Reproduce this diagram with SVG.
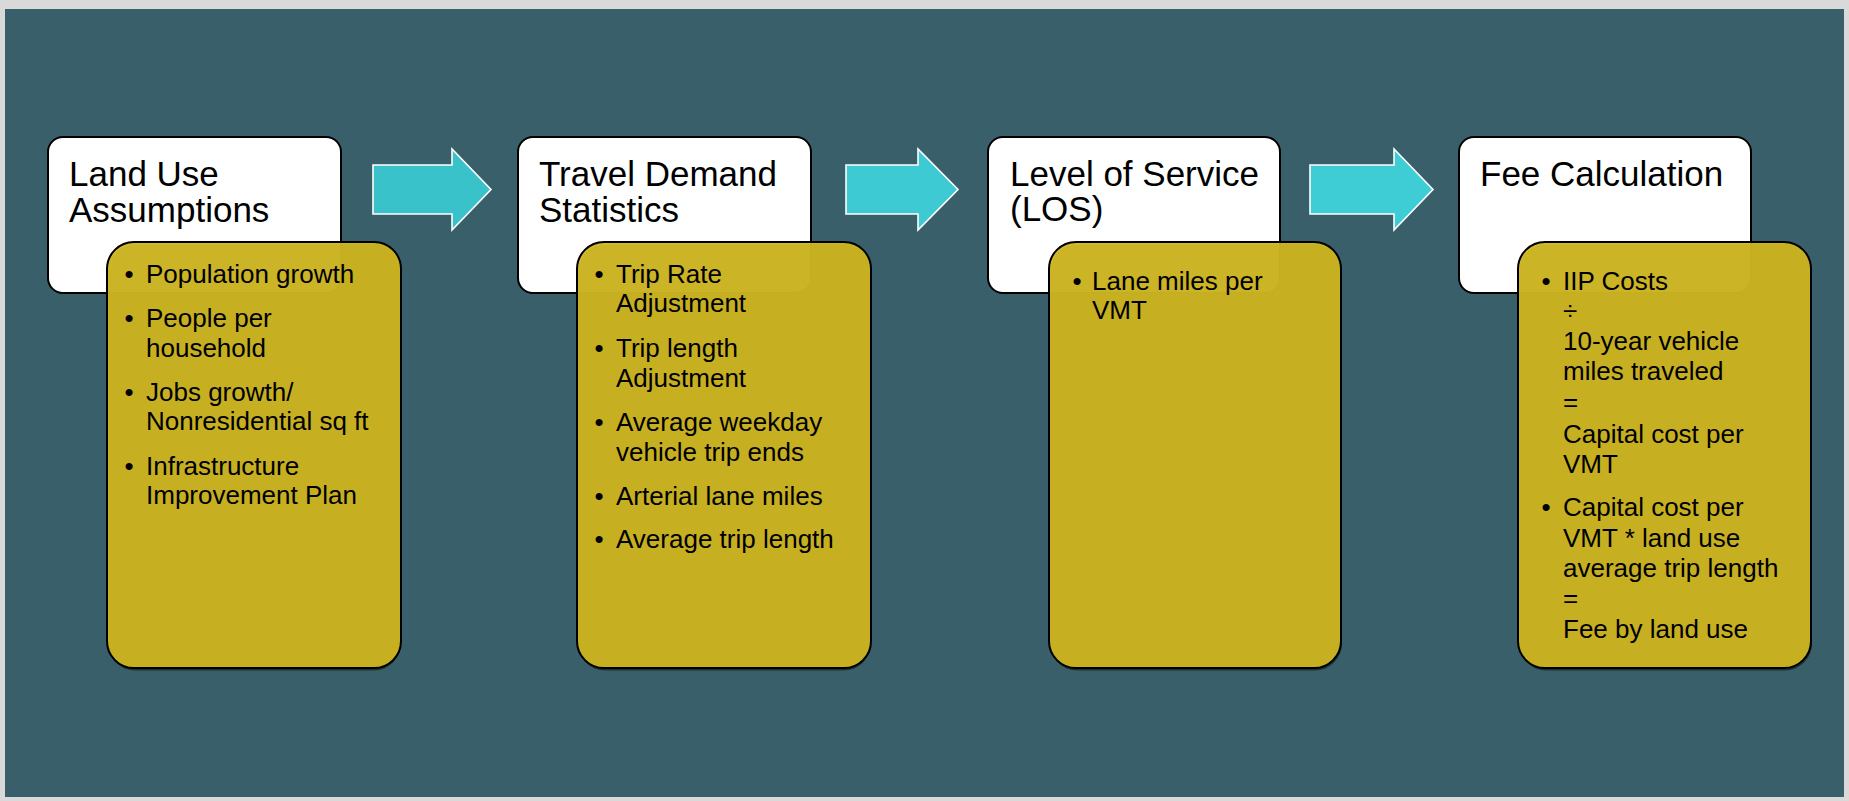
<svg xmlns="http://www.w3.org/2000/svg" width="1849" height="801" viewBox="0 0 1849 801">
<style>
.title{font-family:"Liberation Sans",Arial,sans-serif;font-size:35px;fill:#000}
.item{font-family:"Liberation Sans",Arial,sans-serif;font-size:26px;fill:#000}
.bul{font-family:"Liberation Sans",Arial,sans-serif;font-size:26px;fill:#000;text-anchor:middle}
.head{fill:#fff;stroke:#000;stroke-width:2}
.body{fill:#D0B721;fill-opacity:0.95;stroke:#000;stroke-width:2}
.shadow{fill:#111;opacity:0.6}
.arrow{stroke:#fff;stroke-width:1.6;stroke-linejoin:miter}
</style>
<rect x="0" y="0" width="1849" height="801" fill="#D9D9D9"/>
<rect x="5" y="9" width="1839" height="788" fill="#395F6A"/>

<g id="connectors">
<path class="arrow" fill="#3AC2CB" d="M373,165 H452 V149 L491,189.5 L452,230 V214 H373 Z"/>
<path class="arrow" fill="#3DCAD3" d="M846,165 H918 V149 L958,189.5 L918,230 V214 H846 Z"/>
<path class="arrow" fill="#3ECCD5" d="M1310,165 H1394 V149 L1433,189.5 L1394,230 V214 H1310 Z"/>
</g>

<g id="node1">
<rect class="head" x="48" y="137" width="293" height="156" rx="15"/>
<text class="title" x="69" y="186">Land Use</text>
<text class="title" x="69" y="222">Assumptions</text>
<rect class="shadow" x="108" y="244.5" width="293" height="426" rx="27"/>
<rect class="body" x="107" y="242" width="294" height="426" rx="27"/>
<text class="bul" x="129" y="283">•</text>
<text class="item" x="146" y="283">Population growth</text>
<text class="bul" x="129" y="327">•</text>
<text class="item" x="146" y="327">People per</text>
<text class="item" x="146" y="357">household</text>
<text class="bul" x="129" y="401">•</text>
<text class="item" x="146" y="401">Jobs growth/</text>
<text class="item" x="146" y="430">Nonresidential sq ft</text>
<text class="bul" x="129" y="475">•</text>
<text class="item" x="146" y="475">Infrastructure</text>
<text class="item" x="146" y="504">Improvement Plan</text>
</g>

<g id="node2">
<rect class="head" x="518" y="137" width="293" height="156" rx="15"/>
<text class="title" x="539" y="186">Travel Demand</text>
<text class="title" x="539" y="222">Statistics</text>
<rect class="shadow" x="578" y="244.5" width="293" height="426" rx="27"/>
<rect class="body" x="577" y="242" width="294" height="426" rx="27"/>
<text class="bul" x="599" y="283">•</text>
<text class="item" x="616" y="283">Trip Rate</text>
<text class="item" x="616" y="312">Adjustment</text>
<text class="bul" x="599" y="357">•</text>
<text class="item" x="616" y="357">Trip length</text>
<text class="item" x="616" y="387">Adjustment</text>
<text class="bul" x="599" y="431">•</text>
<text class="item" x="616" y="431">Average weekday</text>
<text class="item" x="616" y="461">vehicle trip ends</text>
<text class="bul" x="599" y="505">•</text>
<text class="item" x="616" y="505">Arterial lane miles</text>
<text class="bul" x="599" y="548">•</text>
<text class="item" x="616" y="548">Average trip length</text>
</g>

<g id="node3">
<rect class="head" x="988" y="137" width="292" height="156" rx="15"/>
<text class="title" x="1010" y="186">Level of Service</text>
<text class="title" x="1010" y="221">(LOS)</text>
<rect class="shadow" x="1050" y="244.5" width="292" height="426" rx="27"/>
<rect class="body" x="1049" y="242" width="292" height="426" rx="27"/>
<text class="bul" x="1077" y="290">•</text>
<text class="item" x="1092" y="290">Lane miles per</text>
<text class="item" x="1092" y="319">VMT</text>
</g>

<g id="node4">
<rect class="head" x="1459" y="137" width="292" height="156" rx="15"/>
<text class="title" x="1480" y="186">Fee Calculation</text>
<rect class="shadow" x="1519" y="244.5" width="293" height="426" rx="27"/>
<rect class="body" x="1518" y="242" width="293" height="426" rx="27"/>
<text class="bul" x="1546" y="290">•</text>
<text class="item" x="1563" y="290">IIP Costs</text>
<text class="item" x="1563" y="320">÷</text>
<text class="item" x="1563" y="350">10-year vehicle</text>
<text class="item" x="1563" y="380">miles traveled</text>
<text class="item" x="1563" y="411">=</text>
<text class="item" x="1563" y="443">Capital cost per</text>
<text class="item" x="1563" y="473">VMT</text>
<text class="bul" x="1546" y="516">•</text>
<text class="item" x="1563" y="516">Capital cost per</text>
<text class="item" x="1563" y="547">VMT * land use</text>
<text class="item" x="1563" y="577">average trip length</text>
<text class="item" x="1563" y="607">=</text>
<text class="item" x="1563" y="638">Fee by land use</text>
</g>
</svg>
